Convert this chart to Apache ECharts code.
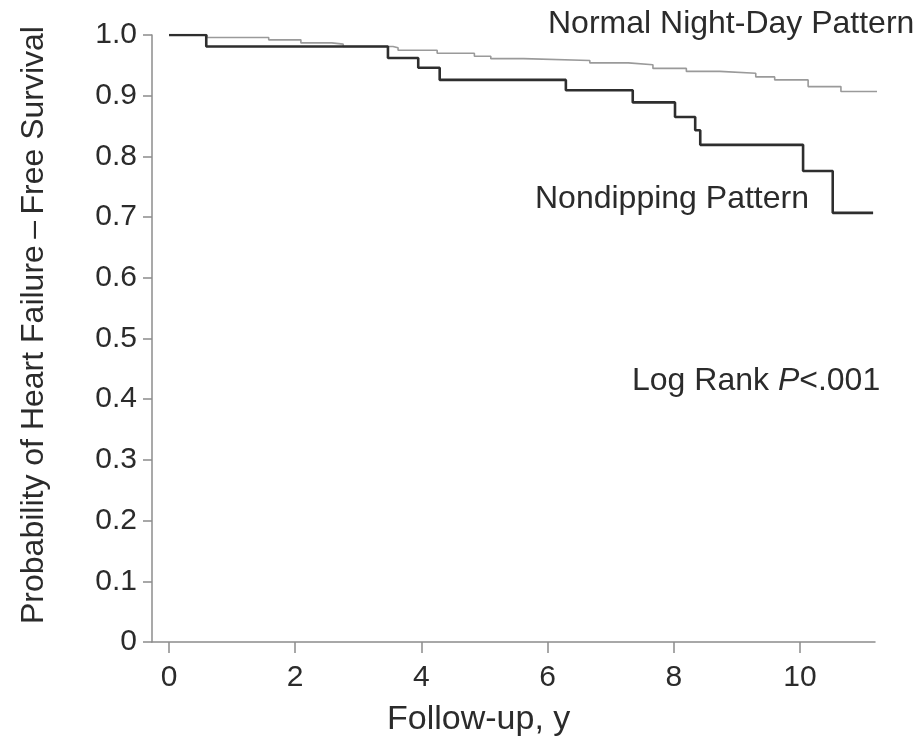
<!DOCTYPE html>
<html>
<head>
<meta charset="utf-8">
<script src="https://cdn.jsdelivr.net/npm/echarts@6/dist/echarts.min.js"></script>
<style>
  html, body { margin: 0; padding: 0; background: #fff; }
  #chart { width: 920px; height: 742px; }
</style>
</head>
<body>
<div id="chart"></div>
<script>
// 随访时间（年）与生存概率
var normalTimes = [0, 0.6, 1.58, 2.09, 2.58, 2.76, 3.55, 3.63, 4.25, 4.84, 5.1, 5.62, 6.67, 7.28, 7.67, 8.2, 8.73, 9.3, 9.6, 10.13, 10.65, 11.3];
var normalSurv  = [1.0, 0.996, 0.992, 0.987, 0.985, 0.981, 0.979, 0.975, 0.970, 0.965, 0.961, 0.958, 0.954, 0.951, 0.945, 0.940, 0.937, 0.931, 0.926, 0.915, 0.907, 0.907];

var nondipTimes = [0, 0.59, 3.47, 3.95, 4.29, 6.29, 7.35, 8.02, 8.34, 8.42, 10.05, 10.52, 11.16];
var nondipSurv  = [1.0, 0.981, 0.962, 0.946, 0.926, 0.909, 0.889, 0.865, 0.843, 0.819, 0.776, 0.707, 0.707];

// 坐标轴刻度
var xTicks = [0, 2, 4, 6, 8, 10];
var yTicks = [0, 0.1, 0.2, 0.3, 0.4, 0.5, 0.6, 0.7, 0.8, 0.9, 1.0];

function pairs(xs, ys) {
    return xs.map(function (x, i) { return [x, ys[i]]; });
}

var font = 'Liberation Sans, Arial, sans-serif';
var textColor = '#2b2b2b';
var axisColor = '#8c8c8c';

var chart = echarts.init(document.getElementById('chart'));
chart.setOption({
    animation: false,
    backgroundColor: '#fff',
    grid: { left: 152, top: 35, right: 45, bottom: 100 },
    xAxis: {
        type: 'value',
        min: -0.27,
        max: 11.19,
        splitLine: { show: false },
        axisLine: { onZero: false, lineStyle: { color: axisColor, width: 1.5 } },
        axisTick: { customValues: xTicks, length: 11, lineStyle: { color: axisColor, width: 1.5 } },
        axisLabel: {
            customValues: xTicks,
            margin: 21,
            fontSize: 30,
            fontFamily: font,
            color: textColor
        }
    },
    yAxis: {
        type: 'value',
        min: 0,
        max: 1,
        splitLine: { show: false },
        axisLine: { show: true, onZero: false, lineStyle: { color: axisColor, width: 1.5 } },
        axisTick: { show: true, customValues: yTicks, length: 9, lineStyle: { color: axisColor, width: 1.5 } },
        axisLabel: {
            customValues: yTicks,
            margin: 15,
            fontSize: 30,
            fontFamily: font,
            color: textColor,
            formatter: function (v) { return v === 0 ? '0' : v.toFixed(1); }
        }
    },
    series: [
        {
            name: 'Normal Night-Day Pattern',
            type: 'line',
            step: 'end',
            symbol: 'none',
            clip: false,
            lineStyle: { color: '#9a9a9a', width: 1.6 },
            data: pairs(normalTimes, normalSurv)
        },
        {
            name: 'Nondipping Pattern',
            type: 'line',
            step: 'end',
            symbol: 'none',
            lineStyle: { color: '#2e2e2e', width: 2.6 },
            data: pairs(nondipTimes, nondipSurv)
        }
    ],
    graphic: [
        {
            type: 'text', left: 548, top: 8,
            style: { text: 'Normal Night-Day Pattern', font: '32px ' + font, fill: textColor }
        },
        {
            type: 'text', left: 535, top: 183,
            style: { text: 'Nondipping Pattern', font: '32px ' + font, fill: textColor }
        },
        {
            type: 'text', left: 632, top: 365,
            style: {
                text: 'Log Rank {i|P}<.001',
                font: '32px ' + font,
                fill: textColor,
                rich: { i: { fontStyle: 'italic', fontSize: 32, fontFamily: font, fill: textColor } }
            }
        },
        {
            type: 'text', left: 387, top: 703,
            style: { text: 'Follow-up, y', font: '34px ' + font, fill: textColor }
        },
        {
            type: 'text',
            x: 34, y: 325,
            rotation: Math.PI / 2,
            style: {
                text: 'Probability of Heart Failure\u2009\u2013\u2009Free Survival',
                font: '32px ' + font,
                fill: textColor,
                align: 'center',
                verticalAlign: 'middle'
            }
        }
    ]
});
</script>
</body>
</html>
